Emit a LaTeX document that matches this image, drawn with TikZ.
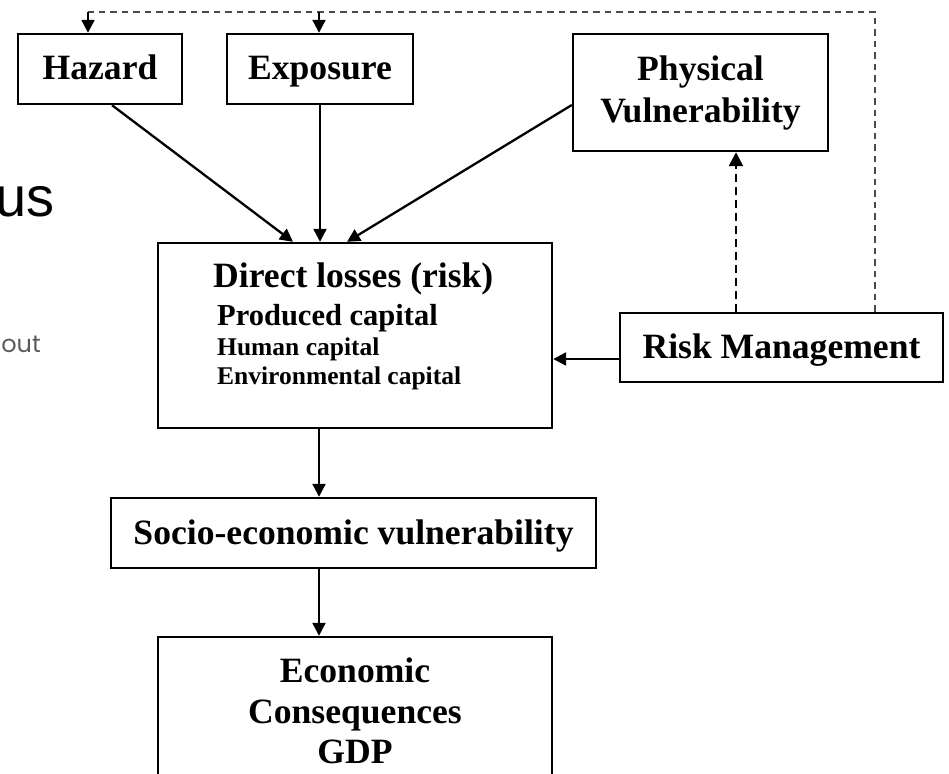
\documentclass[tikz,border=0pt]{standalone}
\usepackage{fontspec}
\setmainfont{Liberation Serif}
\newfontfamily\arialfont{Liberation Sans}
\newfontfamily\gothfont{Poppins}
\usetikzlibrary{arrows.meta}
\definecolor{fbgray}{HTML}{4A4A4A}
\definecolor{txtgray}{HTML}{5A5A5A}
\begin{document}
\begin{tikzpicture}[x=1pt,y=-1pt,
  box/.style={draw, line width=2.4pt, inner sep=0pt, rectangle, align=center,
    font=\fontsize{35.6}{42}\selectfont\bfseries},
  one/.style={text height=23pt, text depth=1pt},
  txt/.style={inner sep=0pt, font=\fontsize{35.6}{42}\selectfont\bfseries},
  arr/.style={line width=2.3pt, -{Triangle[length=13pt,width=13pt]}},
  dasharr/.style={line width=2.4pt, dash pattern=on 8pt off 5pt, -{Triangle[length=14pt,width=14pt]}},
  fb/.style={line width=1.6pt, fbgray, dash pattern=on 6.5pt off 5pt}
]
\useasboundingbox (0,0) rectangle (949,773);
\clip (0,0) rectangle (949,773);

% boxes
\node[box, one, minimum width=164pt, minimum height=70pt] (hz) at (100,69) {Hazard};
\node[box, one, minimum width=186pt, minimum height=70pt] (ex) at (320,69) {Exposure};
\node[box, minimum width=255pt, minimum height=117pt] (pv) at (700.5,92.5) {Physical\\Vulnerability};
\node[box, minimum width=394pt, minimum height=185pt] (dl) at (355,335.5) {};
\node[box, one, minimum width=323pt, minimum height=69pt] (rm) at (781.5,347.5) {Risk Management};
\node[box, one, minimum width=485pt, minimum height=70pt] (so) at (353.5,533) {Socio-economic vulnerability};
\node[box, minimum width=394pt, minimum height=193pt] (ec) at (355,733.5) {};

% direct losses text
\node[txt, anchor=base west] (dl1) at (213,287) {Direct losses (risk)};
\node[txt, anchor=base west, font=\fontsize{30.5}{36}\selectfont\bfseries] (dl2) at (217,325) {Produced capital};
\node[txt, anchor=base west, font=\fontsize{25.5}{30}\selectfont\bfseries] (dl3) at (217,355) {Human capital};
\node[txt, anchor=base west, font=\fontsize{25.5}{30}\selectfont\bfseries] (dl4) at (217,384) {Environmental capital};

% economic consequences text
\node[txt, anchor=base] (ec1) at (355,682) {Economic};
\node[txt, anchor=base] (ec2) at (355,723) {Consequences};
\node[txt, anchor=base] (ec3) at (355,763) {GDP};

% background slide fragments
\node[anchor=base east, inner sep=0pt, font=\arialfont\fontsize{56}{60}\selectfont] (us) at (55,216) {us};
\node[anchor=base east, inner sep=0pt, text=txtgray, font=\gothfont\fontsize{24}{28}\selectfont] (out) at (41,352) {out};

% connectors into direct losses
\draw[arr] ([xshift=12pt]hz.south) -- ([xshift=-62pt]dl.north);
\draw[arr] (ex.south) -- (ex.south |- dl.north);
\draw[arr] ([yshift=-12.5pt]pv.west) -- ([xshift=-8pt]dl.north);

% risk management to direct losses
\coordinate (rmout) at ([yshift=-11.5pt]rm.west);
\draw[arr] (rmout) -- (rmout -| dl.east);

% risk management to physical vulnerability
\coordinate (pvx) at (736,0);
\draw[dasharr] (rm.north -| pvx) -- (pvx |- pv.south);

% feedback loop to hazard and exposure
\coordinate (fbR) at (875,12);
\coordinate (fbL) at (88,12);
\coordinate (fbE) at (319,12);
\draw[fb] (rm.north -| fbR) -- (fbR) -- (fbL);
\draw[arr] (fbL) -- (fbL |- hz.north);
\draw[arr] (fbE) -- (fbE |- ex.north);

% downward chain
\coordinate (d1) at ([xshift=-36pt]dl.south);
\draw[arr] (d1) -- (d1 |- so.north);
\coordinate (s1) at ([xshift=-34.5pt]so.south);
\draw[arr] (s1) -- (s1 |- ec.north);
\end{tikzpicture}
\end{document}
